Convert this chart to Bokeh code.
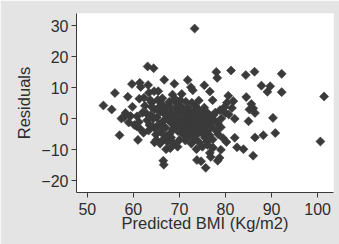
from bokeh.plotting import figure
from bokeh.models import Range1d, FixedTicker, ColumnDataSource
from bokeh.embed import file_html
from bokeh.resources import INLINE
import math

pts = [
    (73.3, 29.1),
    (63.1, 16.9), (64.4, 16.3),
    (53.5, 4.3), (55.3, 3.0), (56.0, 8.3), (58.8, 7.1),
    (57.0, -5.3), (61.0, -6.8),
    (59.7, 11.2), (61.4, 11.6), (61.6, 10.3), (63.2, 10.9),
    (66.7, 12.6), (68.9, 11.3),
    (71.8, 12.5), (72.5, 10.2), (72.9, 9.2),
    (75.4, 10.8), (76.6, 8.8), (77.2, 6.0),
    (78.0, 15.1), (78.2, 13.2), (81.2, 15.6), (84.4, 14.1), (86.3, 15.2),
    (87.8, 10.7), (89.7, 10.5), (89.1, 8.7),
    (92.2, 14.5), (92.2, 8.6),
    (101.4, 7.2), (100.6, -7.3),
    (90.3, 0.3), (90.8, -4.6), (88.2, -5.3), (86.4, -6.0), (86.0, -11.9),
    (85.0, -0.8), (84.5, 7.0),
    (85.6, 4.8), (86.0, 3.4), (86.4, 1.9), (85.2, 3.0),
    (82.0, -6.1), (82.5, -9.2), (83.9, -9.8),
    (80.6, 7.4), (80.3, 5.2), (81.7, 5.7), (81.4, 3.5), (80.0, 1.9), (80.7, 1.4), (82.0, 0.0),
    (79.1, 0.1), (79.0, -2.7), (78.4, -5.0),
    (79.0, -10.0), (78.7, -12.6), (78.3, -13.5),
    (76.6, -11.0), (77.3, -9.3), (76.1, -8.4), (76.8, -12.3),
    (74.7, -13.7), (73.8, -13.3), (75.7, -15.8),
    (66.5, -13.5), (66.6, -14.8), (67.1, -9.8),
    (57.4, 0.1), (58.3, 1.9), (59.4, 0.9), (59.8, 3.9), (60.7, -2.4), (58.0, 0.5), (60.2, -2.0), (59.0, -1.2),
    (62.3, 6.8), (63.4, 8.4), (64.5, 8.9), (65.4, 8.9),
    (68.5, 7.8), (69.0, 6.5), (70.5, 8.0),
    (62.5, 4.2), (63.0, -0.5), (63.3, -3.8), (63.8, 1.2), (64.0, 5.3), (64.2, -2.5), (64.6, 3.0), (64.9, -5.1),
    (65.1, 0.4), (65.3, 6.1), (65.5, -1.8), (65.8, 2.2), (66.0, -4.3), (66.2, 4.8), (66.4, -0.9), (66.6, -6.5),
    (66.8, 1.5), (67.0, -2.9), (67.2, 3.6), (67.4, -7.4), (67.5, -0.2), (67.8, 5.5), (67.9, -4.8), (68.1, 2.0),
    (68.3, -1.5), (68.6, -3.4), (68.8, 0.8), (69.1, -2.2), (69.3, 3.2), (69.5, -0.6), (69.7, -4.0), (69.9, 1.9),
    (70.1, -1.1), (70.3, -3.1), (70.4, 4.0), (70.6, 0.2), (70.8, -5.0), (71.0, 2.6), (71.2, -2.0), (71.3, -7.0),
    (71.5, 0.9), (71.7, -3.8), (71.9, 3.5), (72.0, -1.0), (72.2, -5.5), (72.4, 1.8), (72.5, -2.7), (72.7, 5.2),
    (72.9, -0.3), (73.0, -4.2), (73.2, 2.4), (73.4, -6.6), (73.5, 4.1), (73.6, -1.6), (73.8, 0.7), (74.0, -3.3),
    (74.1, 3.0), (74.3, -7.6), (74.5, -0.9), (74.7, 1.5), (74.9, -4.6), (75.1, 2.2), (75.3, -2.1), (75.5, -6.0),
    (75.7, 0.3), (75.9, -3.6), (76.1, 1.9), (76.3, -1.2), (76.5, -5.2), (76.8, 0.8), (77.0, -2.6), (77.2, -6.7),
    (77.5, -0.4), (77.8, 2.0), (78.0, -3.9), (78.3, -1.5),
    (62.8, 1.8), (63.5, -2.0), (64.3, 0.0), (64.8, -3.2), (65.6, 3.8), (66.1, -2.4), (66.5, 2.7), (67.1, -5.6),
    (67.7, 1.0), (68.2, -6.0), (68.9, -1.0), (69.4, 5.0), (70.0, -6.8), (70.7, 2.9), (71.1, -4.5), (71.8, -0.5),
    (72.3, 0.5), (72.8, -3.0), (73.3, 1.0), (73.9, -5.0), (74.4, 0.2), (74.8, -2.5), (75.4, 3.6), (76.0, -7.3),
    (76.6, -3.0), (77.4, 1.2), (61.5, -3.3), (62.2, -4.5), (62.0, 2.0), (63.7, 6.0), (65.0, -6.8), (66.3, 6.6),
    (68.0, 4.0), (70.2, 6.0), (71.4, 5.5), (64.6, -7.6), (65.8, -8.0), (68.7, -7.8), (72.6, -8.0), (74.2, 5.9),
    (75.0, -9.0), (73.7, -9.8), (69.6, -9.0), (68.0, -9.5), (64.0, 3.8), (60.8, 0.8), (61.2, -1.0), (78.8, 2.8),
    (79.5, -6.3), (80.2, -7.5), (79.8, 3.8), (61.3, 6.5),
]
predicted_bmi = [p_[0] for p_ in pts]
residuals = [p_[1] for p_ in pts]

x_ticks = [50, 60, 70, 80, 90, 100]
y_ticks = [-20, -10, 0, 10, 20, 30]

BG = "#e4e4e4"
DARK = "#3a3a3a"
TXT = "#2e2e2e"
FONT = "Liberation Sans"

p = figure(width=339, height=244, output_backend="svg", toolbar_location=None,
           x_range=Range1d(47.66, 103.44), y_range=Range1d(-23.77, 33.97),
           min_border_left=76, min_border_right=6, min_border_top=13, min_border_bottom=52)
p.background_fill_color = "white"
p.border_fill_color = BG
p.outline_line_color = None
p.grid.visible = False

src = ColumnDataSource(dict(x=predicted_bmi, y=residuals))
p.scatter("x", "y", source=src, marker="square", angle=math.pi / 4, size=6.4,
          fill_color=DARK, line_color=DARK, line_width=0.6)

p.xaxis.ticker = FixedTicker(ticks=x_ticks)
p.yaxis.ticker = FixedTicker(ticks=y_ticks)
p.xaxis.axis_label = "Predicted BMI (Kg/m2)"
p.yaxis.axis_label = "Residuals"
for ax in (p.xaxis[0], p.yaxis[0]):
    ax.axis_line_color = DARK
    ax.major_tick_line_color = DARK
    ax.minor_tick_line_color = None
    ax.major_tick_in = 0
    ax.major_tick_out = 5
    ax.major_label_text_font = FONT
    ax.major_label_text_font_size = "16px"
    ax.major_label_text_color = TXT
    ax.axis_label_text_font = FONT
    ax.axis_label_text_font_size = "16.5px"
    ax.axis_label_text_font_style = "normal"
    ax.axis_label_text_color = TXT
p.xaxis.major_label_standoff = 5
p.xaxis.axis_label_standoff = -4
p.yaxis.major_label_standoff = 3
p.yaxis.axis_label_standoff = 5

open("out.html", "w").write(file_html(p, INLINE))
